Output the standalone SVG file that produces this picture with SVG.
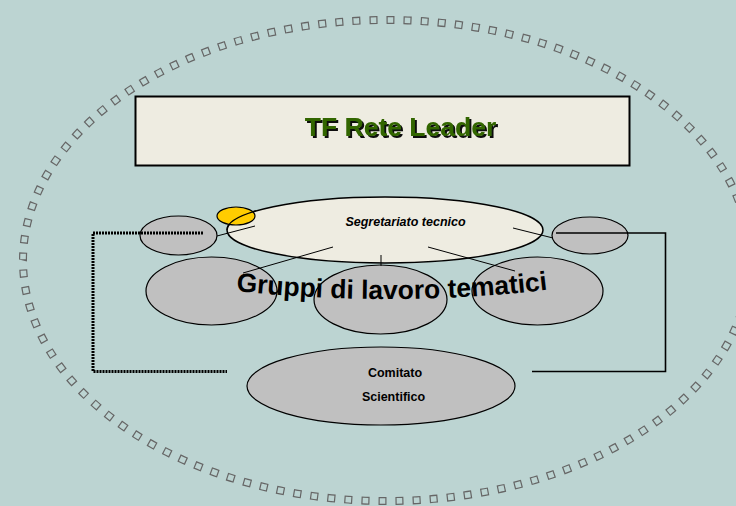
<svg xmlns="http://www.w3.org/2000/svg" width="736" height="506" viewBox="0 0 736 506">
  <defs>
    <style>
      .gray { fill: #c0c0c0; stroke: #000; stroke-width: 1.2; }
      .cream { fill: #eeece1; stroke: #000; stroke-width: 1.5; }
      .outline { fill: none; stroke: #000; stroke-width: 1.2; }
      .line { fill: none; stroke: #000; stroke-width: 1; }
      .conn { fill: none; stroke: #000; stroke-width: 1.6; }
      .dotted { fill: none; stroke: #000; stroke-width: 3; stroke-dasharray: 2 1; }
      .sans { font-family: "Liberation Sans", Arial, sans-serif; }
    </style>
    <filter id="shadow" x="-5%" y="-20%" width="115%" height="150%">
      <feDropShadow dx="2" dy="2" stdDeviation="0.3" flood-color="#111" flood-opacity="1"/>
    </filter>
    <path id="arc" d="M 236 291 Q 400 308 554 289"/>
  </defs>
  <rect x="0" y="0" width="736" height="506" fill="#bcd4d2"/>

  <g id="border-squares">
    <ellipse cx="386.5" cy="260.5" rx="363.5" ry="240.5" fill="none" stroke="#666" stroke-width="8" pathLength="1904" stroke-dasharray="8 9"/>
    <ellipse cx="386.5" cy="260.5" rx="363.5" ry="240.5" fill="none" stroke="#bcd4d2" stroke-width="5.6" pathLength="1904" stroke-dasharray="5.6 11.4" stroke-dashoffset="-1.2"/>
  </g>

  <g id="title">
    <rect x="135.5" y="96.5" width="494" height="69" fill="#eeece1" stroke="#000" stroke-width="2"/>
    <text x="400.5" y="136" text-anchor="middle" class="sans" font-size="26.5" font-weight="bold" fill="#336600" filter="url(#shadow)">TF Rete Leader</text>
  </g>

  <g id="small-left">
    <ellipse cx="178.5" cy="235.5" rx="38.5" ry="19.5" class="gray"/>
  </g>
  <g id="small-right">
    <ellipse cx="590" cy="235.5" rx="38" ry="18.5" class="gray"/>
  </g>

  <g id="segretariato">
    <ellipse cx="385" cy="230" rx="158" ry="33" class="cream"/>
    <text x="405.5" y="226" text-anchor="middle" class="sans" font-size="12.5" font-weight="bold" font-style="italic" fill="#000">Segretariato tecnico</text>
  </g>

  <g id="yellow-marker">
    <ellipse cx="236" cy="216" rx="19" ry="9" fill="#ffcc00" stroke="#000" stroke-width="1.2"/>
    <path d="M 227 230 A 158 33 0 0 1 256 210.95" class="outline"/>
  </g>

  <g id="gruppi">
    <ellipse cx="211.5" cy="291" rx="65.5" ry="34" fill="#c0c0c0"/>
    <ellipse cx="380.5" cy="299.5" rx="66.5" ry="34.5" fill="#c0c0c0"/>
    <ellipse cx="537.5" cy="291" rx="65.5" ry="34" fill="#c0c0c0"/>
    <text class="sans" font-size="26.5" font-weight="bold" fill="#000"><textPath href="#arc">Gruppi di lavoro tematici</textPath></text>
    <ellipse cx="211.5" cy="291" rx="65.5" ry="34" class="outline"/>
    <ellipse cx="380.5" cy="299.5" rx="66.5" ry="34.5" class="outline"/>
    <ellipse cx="537.5" cy="291" rx="65.5" ry="34" class="outline"/>
  </g>

  <g id="comitato">
    <ellipse cx="381" cy="386" rx="134" ry="39" class="gray"/>
    <text x="395" y="377" text-anchor="middle" class="sans" font-size="12.5" font-weight="bold" fill="#000">Comitato</text>
    <text x="393.5" y="401" text-anchor="middle" class="sans" font-size="12.5" font-weight="bold" fill="#000">Scientifico</text>
  </g>

  <g id="connectors">
    <polyline points="203,233 93,233 93,371.5 227,371.5" class="dotted"/>
    <polyline points="556,233 665.5,233 665.5,371.5 532,371.5" class="conn"/>
    <line x1="217" y1="236" x2="255" y2="226" class="line"/>
    <line x1="333" y1="247" x2="243" y2="273" class="line"/>
    <line x1="381" y1="255" x2="381" y2="266" class="line"/>
    <line x1="428" y1="247" x2="515" y2="271" class="line"/>
    <line x1="513" y1="228" x2="553" y2="238" class="line"/>
  </g>
</svg>
